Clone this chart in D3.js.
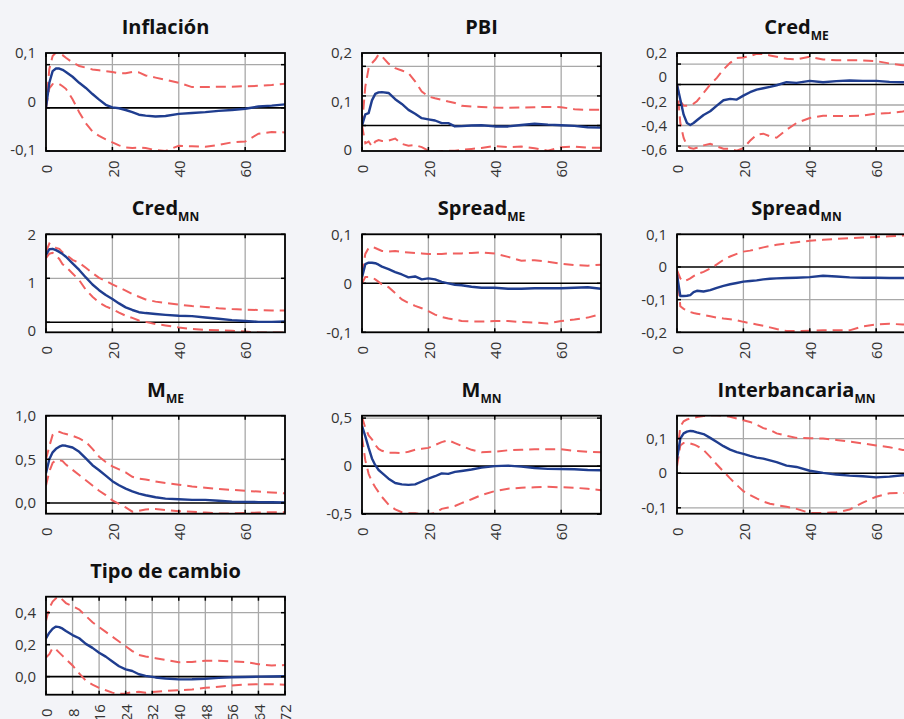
<!DOCTYPE html>
<html><head><meta charset="utf-8">
<script src="https://cdn.jsdelivr.net/npm/d3@7"></script>
<style>html,body{margin:0;padding:0;background:#f3f4f8;overflow:hidden}</style>
</head><body><svg id="c" width="904" height="719"></svg>
<script>
// Horizon (months)
const periods = [0,1,2,3,4,5,6,8,10,12,14,16,18,20,22,24,26,28,30,33,36,40,44,48,52,56,60,64,68,72];

// Impulse responses (median, upper band, lower band)
const inflacionIrf = [0,0.058,0.085,0.091,0.091,0.088,0.083,0.072,0.058,0.046,0.032,0.019,0.007,0.001,-0.001,-0.005,-0.010,-0.016,-0.018,-0.020,-0.019,-0.014,-0.012,-0.010,-0.007,-0.005,-0.002,0.003,0.005,0.008];
const inflacionUp  = [0,0.09,0.12,0.128,0.127,0.122,0.116,0.105,0.097,0.093,0.089,0.087,0.085,0.083,0.080,0.080,0.083,0.082,0.075,0.070,0.065,0.058,0.048,0.048,0.049,0.049,0.050,0.051,0.053,0.056];
const inflacionLo  = [0,0.045,0.055,0.056,0.055,0.050,0.044,0.020,-0.010,-0.036,-0.055,-0.065,-0.073,-0.080,-0.087,-0.092,-0.093,-0.092,-0.093,-0.098,-0.100,-0.088,-0.089,-0.090,-0.086,-0.080,-0.078,-0.060,-0.056,-0.057];

const pbiIrf = [0,0.038,0.042,0.085,0.107,0.112,0.113,0.110,0.089,0.073,0.053,0.040,0.025,0.021,0.017,0.008,0.008,-0.003,-0.002,0,0.001,-0.003,-0.003,0.002,0.006,0.003,0.001,-0.001,-0.006,-0.007];
const pbiUp  = [0,0.132,0.194,0.211,0.223,0.240,0.234,0.209,0.194,0.186,0.177,0.149,0.115,0.098,0.092,0.087,0.081,0.076,0.067,0.064,0.063,0.061,0.060,0.061,0.062,0.063,0.062,0.055,0.053,0.053];
const pbiLo  = [0,-0.060,-0.054,-0.071,-0.054,-0.049,-0.052,-0.051,-0.044,-0.062,-0.068,-0.066,-0.073,-0.085,-0.089,-0.086,-0.085,-0.085,-0.082,-0.079,-0.076,-0.069,-0.073,-0.071,-0.077,-0.085,-0.073,-0.071,-0.075,-0.075];

const credMeIrf = [0,-0.147,-0.294,-0.376,-0.395,-0.376,-0.349,-0.297,-0.261,-0.206,-0.153,-0.140,-0.147,-0.108,-0.075,-0.049,-0.036,-0.023,-0.007,0.023,0.016,0.036,0.023,0.033,0.039,0.036,0.036,0.026,0.023,0.020];
const credMeUp  = [0,-0.163,-0.206,-0.206,-0.202,-0.186,-0.163,-0.082,0,0.065,0.147,0.212,0.258,0.264,0.278,0.300,0.297,0.284,0.271,0.251,0.245,0.271,0.245,0.238,0.238,0.235,0.229,0.206,0.189,0.180];
const credMeLo  = [0,-0.376,-0.522,-0.598,-0.620,-0.627,-0.617,-0.594,-0.578,-0.604,-0.627,-0.627,-0.647,-0.620,-0.549,-0.490,-0.480,-0.506,-0.519,-0.441,-0.376,-0.327,-0.304,-0.307,-0.307,-0.304,-0.284,-0.278,-0.264,-0.240];

const credMnIrf = [1.53,1.66,1.67,1.64,1.60,1.55,1.49,1.34,1.19,1.02,0.86,0.73,0.62,0.53,0.43,0.34,0.28,0.23,0.21,0.19,0.17,0.15,0.14,0.11,0.08,0.05,0.03,0.01,0.01,0.02];
const credMnUp  = [1.60,1.79,1.74,1.69,1.67,1.59,1.54,1.42,1.35,1.24,1.12,1.01,0.94,0.86,0.79,0.72,0.64,0.58,0.52,0.47,0.44,0.40,0.37,0.35,0.32,0.30,0.29,0.28,0.27,0.27];
const credMnLo  = [1.46,1.56,1.58,1.52,1.44,1.32,1.26,1.11,0.96,0.74,0.58,0.45,0.36,0.30,0.22,0.15,0.10,0.04,0.01,-0.04,-0.07,-0.12,-0.15,-0.17,-0.18,-0.19,-0.21,-0.23,-0.23,-0.23];

const spreadMeIrf = [0.012,0.039,0.042,0.042,0.041,0.038,0.034,0.029,0.023,0.018,0.012,0.014,0.008,0.010,0.008,0.003,0.0,-0.003,-0.004,-0.007,-0.009,-0.009,-0.011,-0.011,-0.010,-0.010,-0.010,-0.009,-0.008,-0.011];
const spreadMeUp  = [0.02,0.06,0.072,0.074,0.072,0.069,0.066,0.065,0.066,0.064,0.063,0.062,0.061,0.060,0.060,0.060,0.061,0.061,0.061,0.062,0.063,0.061,0.054,0.046,0.047,0.044,0.040,0.037,0.036,0.038];
const spreadMeLo  = [0.0,0.013,0.013,0.012,0.008,0.003,-0.002,-0.008,-0.020,-0.033,-0.040,-0.046,-0.051,-0.057,-0.064,-0.069,-0.072,-0.074,-0.077,-0.078,-0.078,-0.077,-0.077,-0.079,-0.080,-0.082,-0.077,-0.074,-0.070,-0.063];

const spreadMnIrf = [-0.024,-0.089,-0.089,-0.088,-0.086,-0.077,-0.073,-0.075,-0.071,-0.064,-0.058,-0.053,-0.049,-0.045,-0.043,-0.041,-0.038,-0.036,-0.035,-0.034,-0.033,-0.031,-0.027,-0.029,-0.032,-0.033,-0.033,-0.034,-0.034,-0.034];
const spreadMnUp  = [-0.01,-0.035,-0.044,-0.040,-0.035,-0.028,-0.022,-0.015,-0.005,0.008,0.022,0.032,0.040,0.047,0.050,0.055,0.060,0.064,0.068,0.072,0.076,0.080,0.083,0.086,0.088,0.090,0.092,0.094,0.096,0.097];
const spreadMnLo  = [-0.01,-0.12,-0.128,-0.133,-0.138,-0.141,-0.143,-0.147,-0.151,-0.155,-0.158,-0.160,-0.163,-0.168,-0.172,-0.176,-0.180,-0.185,-0.190,-0.196,-0.196,-0.195,-0.194,-0.194,-0.194,-0.182,-0.176,-0.174,-0.176,-0.174];

const mMeIrf = [0.34,0.50,0.58,0.62,0.645,0.66,0.655,0.636,0.586,0.51,0.433,0.375,0.314,0.25,0.203,0.165,0.134,0.107,0.088,0.065,0.05,0.042,0.036,0.035,0.025,0.015,0.012,0.01,0.008,0.005];
const mMeUp  = [0.5,0.65,0.78,0.81,0.815,0.80,0.79,0.77,0.74,0.70,0.62,0.53,0.47,0.42,0.385,0.35,0.30,0.28,0.27,0.245,0.23,0.21,0.19,0.175,0.16,0.15,0.14,0.13,0.12,0.11];
const mMeLo  = [0.2,0.36,0.46,0.49,0.49,0.48,0.44,0.38,0.32,0.26,0.2,0.14,0.09,0.03,-0.01,-0.05,-0.1,-0.09,-0.075,-0.07,-0.08,-0.095,-0.1,-0.11,-0.12,-0.12,-0.115,-0.11,-0.105,-0.105];

const mMnIrf = [0.42,0.31,0.19,0.08,0.01,-0.04,-0.07,-0.13,-0.175,-0.19,-0.195,-0.19,-0.16,-0.13,-0.105,-0.075,-0.08,-0.06,-0.05,-0.035,-0.015,0.0,0.005,-0.005,-0.02,-0.028,-0.03,-0.032,-0.04,-0.042];
const mMnUp  = [0.51,0.40,0.32,0.28,0.22,0.18,0.16,0.14,0.14,0.135,0.15,0.17,0.18,0.19,0.22,0.25,0.27,0.24,0.21,0.17,0.145,0.15,0.165,0.17,0.175,0.175,0.175,0.16,0.15,0.145];
const mMnLo  = [0.3,0.06,-0.08,-0.16,-0.22,-0.27,-0.32,-0.4,-0.45,-0.48,-0.49,-0.49,-0.5,-0.5,-0.49,-0.445,-0.43,-0.415,-0.385,-0.345,-0.3,-0.26,-0.235,-0.225,-0.22,-0.215,-0.22,-0.225,-0.235,-0.25];

const interbIrf = [0.04,0.1,0.115,0.12,0.122,0.121,0.118,0.113,0.102,0.09,0.078,0.068,0.061,0.056,0.05,0.045,0.042,0.037,0.032,0.022,0.018,0.007,0.001,-0.004,-0.007,-0.009,-0.012,-0.01,-0.006,-0.004];
const interbUp  = [0.05,0.135,0.15,0.155,0.158,0.16,0.162,0.165,0.167,0.167,0.166,0.163,0.158,0.153,0.148,0.14,0.13,0.125,0.115,0.108,0.102,0.101,0.1,0.096,0.091,0.086,0.08,0.075,0.067,0.065];
const interbLo  = [0.02,0.08,0.087,0.088,0.086,0.083,0.079,0.067,0.047,0.025,0.005,-0.015,-0.034,-0.052,-0.063,-0.073,-0.082,-0.088,-0.092,-0.097,-0.103,-0.115,-0.115,-0.113,-0.105,-0.085,-0.068,-0.058,-0.057,-0.058];

const tcIrf = [0.24,0.275,0.3,0.313,0.31,0.3,0.285,0.26,0.24,0.205,0.18,0.15,0.125,0.095,0.065,0.045,0.035,0.015,0.005,-0.005,-0.012,-0.017,-0.016,-0.013,-0.008,-0.004,-0.002,0.0,0.001,0.002];
const tcUp  = [0.35,0.43,0.47,0.49,0.5,0.48,0.46,0.44,0.42,0.38,0.34,0.31,0.28,0.25,0.22,0.19,0.16,0.135,0.126,0.115,0.105,0.09,0.092,0.1,0.1,0.095,0.092,0.078,0.07,0.072];
const tcLo  = [0.12,0.14,0.18,0.17,0.15,0.13,0.11,0.07,0.02,-0.025,-0.05,-0.07,-0.085,-0.1,-0.108,-0.105,-0.097,-0.095,-0.1,-0.095,-0.09,-0.085,-0.08,-0.07,-0.063,-0.055,-0.05,-0.047,-0.048,-0.05];

// Panel metadata
const titles     = ["Inflación","PBI","Cred","Cred","Spread","Spread","M","M","Interbancaria","Tipo de cambio"];
const subscripts = ["","","ME","MN","ME","MN","ME","MN","MN",""];
const irfSeries  = [inflacionIrf,pbiIrf,credMeIrf,credMnIrf,spreadMeIrf,spreadMnIrf,mMeIrf,mMnIrf,interbIrf,tcIrf];
const upSeries   = [inflacionUp,pbiUp,credMeUp,credMnUp,spreadMeUp,spreadMnUp,mMeUp,mMnUp,interbUp,tcUp];
const loSeries   = [inflacionLo,pbiLo,credMeLo,credMnLo,spreadMeLo,spreadMnLo,mMeLo,mMnLo,interbLo,tcLo];
const yDomains   = [[-0.1,0.127],[-0.086,0.245],[-0.649,0.308],[-0.227,2],[-0.1,0.1],[-0.2,0.1],[-0.123,1.0],[-0.495,0.525],[-0.117,0.166],[-0.113,0.5]];
const yGridVals  = [[0.1,-0.1],[0.2,0.1],[0.2,-0.2,-0.4,-0.6],[2,1],[0.1,-0.1],[0.1,-0.1,-0.2],[1,0.5],[0.5,-0.5],[0.1,-0.1],[0.4,0.2]];
const yTickVals  = [[0.1,0,-0.1],[0.2,0.1,0],[0.2,0,-0.2,-0.4,-0.6],[2,1,0],[0.1,0,-0.1],[0.1,0,-0.1,-0.2],[1,0.5,0],[0.5,0,-0.5],[0.1,0,-0.1],[0.4,0.2,0]];
const yTickText  = [["0,1","0","-0,1"],["0,2","0,1","0"],["0,2","0","-0,2","-0,4","-0,6"],["2","1","0"],["0,1","0","-0,1"],["0,1","0","-0,1","-0,2"],["1,0","0,5","0,0"],["0,5","0","-0,5"],["0,1","0","-0,1"],["0,4","0,2","0,0"]];
const labelsSpread = [true,true,true,true,false,false,false,false,false,false];
const xTicksStd = [0,20,40,60];
const xTicksFx  = [0,8,16,24,32,40,48,56,64,72];
const xDomain = [0,72];

// Layout
const colLeft = [46,362,677];
const rowTop = [53,234.3,415.7,596.7];
const W = 239, H = 98;
const FONT = "'Open Sans', 'Noto Sans', sans-serif";

const svg = d3.select("#c");
svg.append("rect").attr("width",904).attr("height",719).attr("fill","#f3f4f8");

titles.forEach((title,i)=>{
  const left = colLeft[i%3], top = rowTop[Math.floor(i/3)];
  const x = d3.scaleLinear().domain(xDomain).range([left,left+W]);
  const y = d3.scaleLinear().domain(yDomains[i]).range([top+H,top]);
  const g = svg.append("g");
  const clipId = "clip"+i;
  g.append("clipPath").attr("id",clipId).append("rect")
    .attr("x",left).attr("y",top).attr("width",W).attr("height",H);

  g.append("rect").attr("x",left).attr("y",top).attr("width",W).attr("height",H).attr("fill","#fff");

  const xt = i===9 ? xTicksFx : xTicksStd;
  g.selectAll(".vg").data(xt.filter(d=>d>0 && d<72)).enter().append("line")
    .attr("x1",d=>x(d)).attr("x2",d=>x(d)).attr("y1",top).attr("y2",top+H)
    .attr("stroke","#a8a8a8").attr("stroke-width",1.3);
  g.selectAll(".hg").data(yGridVals[i]).enter().append("line")
    .attr("x1",left).attr("x2",left+W).attr("y1",d=>y(d)).attr("y2",d=>y(d))
    .attr("stroke","#a8a8a8").attr("stroke-width",1.3);
  g.append("line").attr("x1",left).attr("x2",left+W).attr("y1",y(0)).attr("y2",y(0))
    .attr("stroke","#000").attr("stroke-width",1.6);

  const line = d3.line().x((d,k)=>x(periods[k])).y(d=>y(d));
  const pg = g.append("g").attr("clip-path",`url(#${clipId})`);
  [upSeries[i],loSeries[i]].forEach(s=>{
    pg.append("path").attr("d",line(s)).attr("fill","none")
      .attr("stroke","#f0605f").attr("stroke-width",2).attr("stroke-dasharray","10,6");
  });
  pg.append("path").attr("d",line(irfSeries[i])).attr("fill","none")
    .attr("stroke","#1f3d8f").attr("stroke-width",2.4).attr("stroke-linejoin","round");

  g.append("rect").attr("x",left).attr("y",top).attr("width",W).attr("height",H)
    .attr("fill","none").attr("stroke","#000").attr("stroke-width",1.8);
  const tk = 4;
  yGridVals[i].concat([0]).forEach(v=>{
    const yy = y(v);
    if (yy < top-0.5 || yy > top+H+0.5) return;
    g.append("line").attr("x1",left).attr("x2",left+tk).attr("y1",yy).attr("y2",yy).attr("stroke","#000").attr("stroke-width",1.5);
    g.append("line").attr("x1",left+W-tk).attr("x2",left+W).attr("y1",yy).attr("y2",yy).attr("stroke","#000").attr("stroke-width",1.5);
  });
  xt.forEach(v=>{
    g.append("line").attr("x1",x(v)).attr("x2",x(v)).attr("y1",top+H).attr("y2",top+H-tk).attr("stroke","#000").attr("stroke-width",1.5);
    g.append("line").attr("x1",x(v)).attr("x2",x(v)).attr("y1",top).attr("y2",top+tk).attr("stroke","#000").attr("stroke-width",1.5);
  });

  let ly;
  if (labelsSpread[i]) {
    const sp = d3.scalePoint().domain(yTickVals[i].map(String)).range([top, top+H-1.5]);
    ly = v => sp(String(v));
  } else {
    ly = v => y(v);
  }
  g.selectAll(".yl").data(yTickVals[i]).enter().append("text")
    .attr("x",left-10).attr("y",d=>ly(d)).attr("dy","0.35em")
    .attr("text-anchor","end").attr("font-family",FONT).attr("font-size",15).attr("fill","#333")
    .text((d,k)=>yTickText[i][k]);

  g.selectAll(".xl").data(xt).enter().append("text")
    .attr("transform",d=>`translate(${x(d)+1},${top+H+18}) rotate(-90)`)
    .attr("dy","0.35em").attr("text-anchor","middle")
    .attr("font-family",FONT).attr("font-size",15).attr("fill","#333")
    .text(d=>d);

  const t = g.append("text").attr("x",left+W/2).attr("y",top-19)
    .attr("text-anchor","middle").attr("font-family",FONT).attr("font-weight","bold")
    .attr("font-size",20).attr("fill","#111");
  t.append("tspan").text(title);
  if (subscripts[i]) t.append("tspan").attr("font-size",12).attr("dy",6).text(subscripts[i]);
});
</script></body></html>
